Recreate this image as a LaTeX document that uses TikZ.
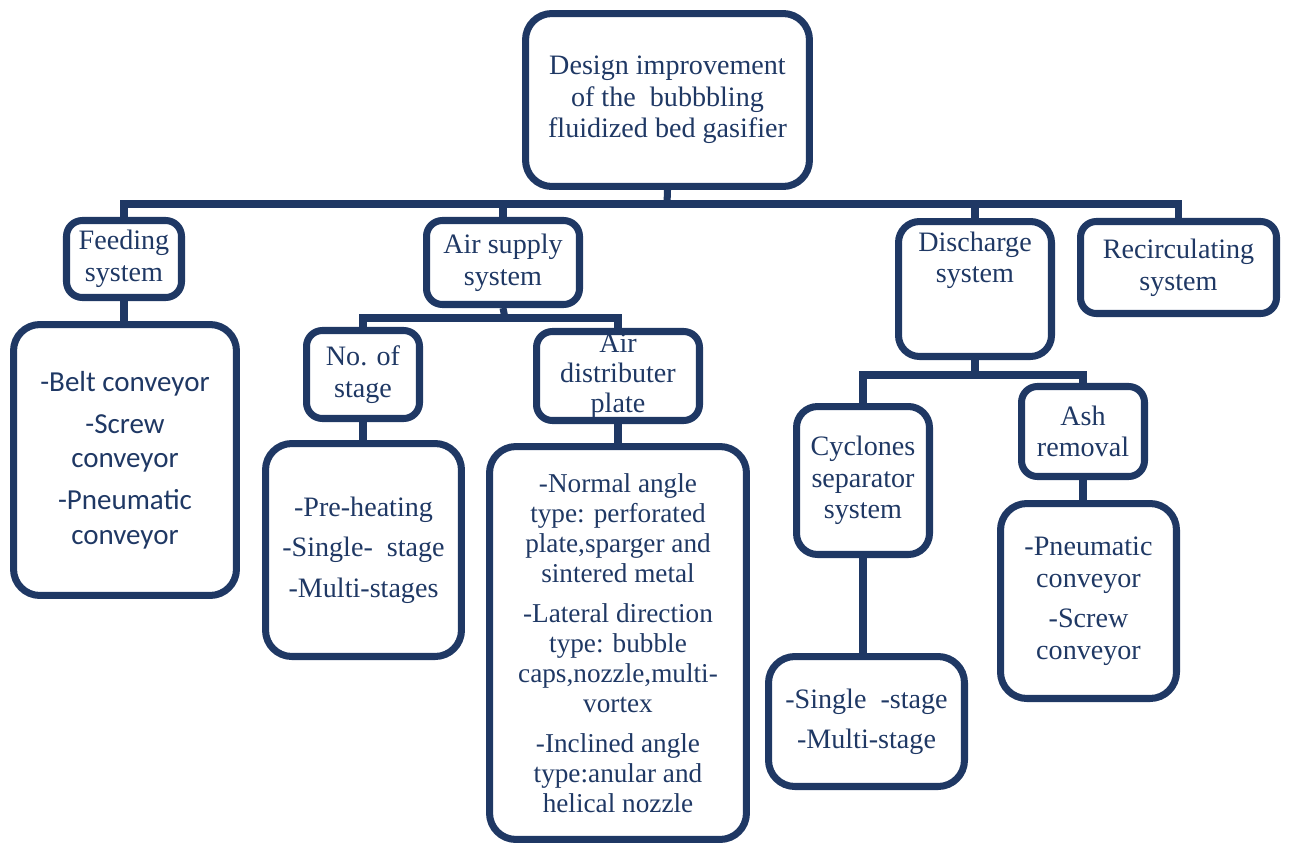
\documentclass[tikz,border=0pt]{standalone}
\usepackage{fontspec}
\setmainfont{Liberation Serif}
\newfontfamily\calibrifont{Carlito}
\definecolor{navy}{RGB}{31,56,100}
\tikzset{
 box/.style={draw=navy,line width=4pt,rounded corners=9pt,text=navy,align=center,inner sep=0pt,font=\fontsize{16}{18}\selectfont},
 listbox/.style={box,rounded corners=15pt},
 link/.style={draw=navy,line width=4pt}
}
\begin{document}
\begin{tikzpicture}[x=0.02cm,y=-0.02cm]
\useasboundingbox (0,0) rectangle (1295,845);
% top
\node (root)[box,rounded corners=15pt,minimum width=5.68cm,minimum height=3.46cm] at (667.5,100) {Design improvement\\of the \ bubbbling\\fluidized bed gasifier};
% second row
\node (feed)[box,minimum width=2.30cm,minimum height=1.54cm] at (124,259) {Feeding\\system};
\node (air)[box,minimum width=3.06cm,minimum height=1.68cm] at (503,262.5) {Air supply\\system};
\node (disch)[box,rounded corners=12pt,minimum width=3.06cm,minimum height=2.70cm] at (975,289) {Discharge\\system\\~\\~};
\node (recirc)[box,minimum width=3.92cm,minimum height=1.84cm] at (1178.5,267.5) {Recirculating\\system};
% third row
\node (feedlist)[listbox,minimum width=4.46cm,minimum height=5.42cm,font=\calibrifont\fontsize{16.5}{19.5}\selectfont] at (125,460) {-Belt conveyor\\[4.5pt]-Screw\\conveyor\\[4.5pt]-Pneumatic\\conveyor};
\node (nstage)[box,minimum width=2.26cm,minimum height=1.76cm] at (363,374.5) {No. of\\stage};
\node (distr)[box,minimum width=3.26cm,minimum height=1.78cm,font=\fontsize{16}{17}\selectfont] at (618,376) {Air\\distributer\\plate};
\node (cyc)[box,rounded corners=12pt,minimum width=2.66cm,minimum height=2.96cm] at (863,480.5) {Cyclones\\separator\\system};
\node (ash)[box,minimum width=2.46cm,minimum height=1.80cm] at (1083,431.5) {Ash\\removal};
% lists
\node (nlist)[listbox,minimum width=3.92cm,minimum height=4.26cm] at (363.5,550) {-Pre-heating\\[5pt]-Single- \ stage\\[5pt]-Multi-stages};
\node (dlist)[listbox,minimum width=5.14cm,minimum height=7.86cm,font=\fontsize{15.5}{17}\selectfont] at (618,643) {-Normal angle\\type: perforated\\plate,sparger and\\sintered metal\\[6pt]-Lateral direction\\type: bubble\\caps,nozzle,multi-\\vortex\\[6pt]-Inclined angle\\type:anular and\\helical nozzle};
\node (clist)[listbox,minimum width=3.92cm,minimum height=2.60cm] at (866.5,721.5) {-Single \ -stage\\[5pt]-Multi-stage};
\node (alist)[listbox,minimum width=3.52cm,minimum height=3.90cm] at (1088.5,601) {-Pneumatic\\conveyor\\[5pt]-Screw\\conveyor};
% connectors
\coordinate (bus) at (667,204);
\coordinate (airbus) at (505,318);
\coordinate (dbus) at (975,375);
\draw[link] (root.south) -- (bus);
\draw[link] (feed.north) |- (bus) -| (recirc.north);
\draw[link] (air.north) -- (air.north |- bus);
\draw[link] (disch.north) -- (disch.north |- bus);
\draw[link] (air.south) -- (airbus);
\draw[link] (nstage.north) |- (airbus) -| (distr.north);
\draw[link] (disch.south) -- (dbus);
\draw[link] (cyc.north) |- (dbus) -| (ash.north);
\draw[link] (feed.south) -- (feed.south |- feedlist.north);
\draw[link] (nstage.south) -- (nstage.south |- nlist.north);
\draw[link] (distr.south) -- (distr.south |- dlist.north);
\draw[link] (cyc.south) -- (cyc.south |- clist.north);
\draw[link] (ash.south) -- (ash.south |- alist.north);
\end{tikzpicture}
\end{document}
